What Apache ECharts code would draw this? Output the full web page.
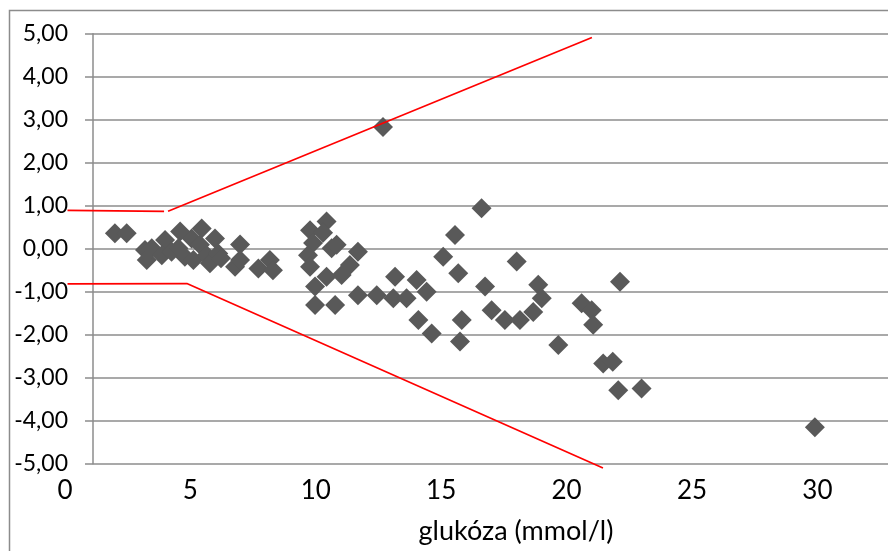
<!DOCTYPE html>
<html>
<head>
<meta charset="utf-8">
<script src="https://cdn.jsdelivr.net/npm/echarts@6/dist/echarts.min.js"></script>
<style>
  html, body { margin: 0; padding: 0; background: #fff; }
  #chart { width: 888px; height: 551px; }
</style>
</head>
<body>
<div id="chart"></div>
<script>
// glukóza (mmol/l) a rozdíl
const glukoza = [
  1.99, 2.46, 3.19, 3.26, 3.46, 3.99, 3.86, 4.25, 4.59, 4.52,
  4.78, 5.05, 5.12, 5.45, 5.38, 5.65, 5.78, 5.98, 6.11, 6.22,
  6.98, 6.78, 6.98, 7.71, 8.17, 8.29,
  9.77, 10.43, 10.29, 9.89, 9.69, 9.77, 10.63, 10.83, 11.68, 10.43,
  9.97, 11.36, 11.03, 9.97, 10.77, 11.68, 12.43, 13.16, 13.09, 13.62,
  14.02, 14.42, 14.09, 14.62, 15.08, 15.55, 15.68, 15.82, 15.75, 16.61,
  16.75, 17.01, 17.54, 18.14, 18.01, 18.87, 19.01, 18.67, 19.67, 20.60,
  21.00, 21.06, 22.13, 21.46, 21.84, 22.06, 22.99, 29.90, 12.68
];
const rozdil = [
  0.36, 0.36, -0.03, -0.26, 0.01, 0.20, -0.15, -0.07, 0.40, 0.01,
  -0.19, 0.24, -0.26, 0.47, 0.09, -0.15, -0.34, 0.24, -0.11, -0.22,
  0.10, -0.42, -0.26, -0.46, -0.26, -0.50,
  0.43, 0.63, 0.37, 0.13, -0.15, -0.42, 0.01, 0.09, -0.07, -0.65,
  -0.88, -0.38, -0.61, -1.31, -1.31, -1.08, -1.08, -0.65, -1.15, -1.15,
  -0.73, -1.00, -1.66, -1.97, -0.19, 0.32, -0.57, -1.66, -2.16, 0.94,
  -0.88, -1.43, -1.66, -1.66, -0.30, -0.84, -1.15, -1.47, -2.24, -1.27,
  -1.43, -1.77, -0.77, -2.67, -2.63, -3.29, -3.25, -4.15, 2.83
];

// hranice (červené čáry)
const horniX1 = [0.1, 3.95];
const horniY1 = [0.89, 0.87];
const horniX2 = [4.11, 21.01];
const horniY2 = [0.87, 4.91];
const dolniX = [0.1, 4.86, 21.45];
const dolniY = [-0.82, -0.81, -5.10];

const xTicks = [0, 5, 10, 15, 20, 25, 30];
const nazevOsyX = "glukóza (mmol/l)";

const pary = (xs, ys) => xs.map((x, i) => [x, ys[i]]);

const chart = echarts.init(document.getElementById("chart"));
const seda = "#8c8c8c";
const font = "Lato";

const option = {
  animation: false,
  textStyle: { fontFamily: font },
  grid: [
    { left: 93, right: 0, top: 33.7, bottom: 87.3 },
    { left: 65, right: 0, top: 33.7, bottom: 87.3 },
  ],
  xAxis: [
    { gridIndex: 0, type: "value", min: 0, max: 1, show: false },
    {
      gridIndex: 1,
      type: "value",
      min: 0,
      max: 32.815,
      interval: 5,
      axisLine: { show: false },
      axisTick: { show: false },
      splitLine: { show: false },
      axisLabel: {
        color: "#000",
        fontSize: 26,
        fontFamily: font,
        margin: 14,
        showMaxLabel: false,
        formatter: (v) => (xTicks.includes(v) ? String(v) : ""),
      },
    },
  ],
  yAxis: [
    {
      gridIndex: 0,
      type: "value",
      min: -5,
      max: 5,
      interval: 1,
      axisLine: { show: true, lineStyle: { color: seda, width: 1.5 } },
      axisTick: { show: true, length: 8, lineStyle: { color: seda, width: 1.5 } },
      splitLine: { show: true, lineStyle: { color: seda, width: 1.5 } },
      axisLabel: {
        color: "#000",
        fontSize: 23,
        fontFamily: font,
        margin: 25,
        formatter: (v) => v.toFixed(2).replace(".", ","),
      },
    },
    { gridIndex: 1, type: "value", min: -5, max: 5, show: false },
  ],
  graphic: [
    {
      type: "rect",
      shape: { x: 9.5, y: 10.5, width: 1000, height: 1000 },
      style: { fill: "none", stroke: seda, lineWidth: 1.5 },
      silent: true,
    },
    {
      type: "text",
      x: 516,
      y: 531,
      style: {
        text: nazevOsyX,
        align: "center",
        verticalAlign: "middle",
        fontSize: 27,
        fontFamily: font,
        fill: "#000",
      },
    },
  ],
  series: [
    {
      type: "line",
      xAxisIndex: 1,
      yAxisIndex: 1,
      data: pary(horniX1, horniY1),
      symbol: "none",
      clip: false,
      lineStyle: { color: "#ff0000", width: 1.7 },
    },
    {
      type: "line",
      xAxisIndex: 1,
      yAxisIndex: 1,
      data: pary(horniX2, horniY2),
      symbol: "none",
      clip: false,
      lineStyle: { color: "#ff0000", width: 1.7 },
    },
    {
      type: "line",
      xAxisIndex: 1,
      yAxisIndex: 1,
      data: pary(dolniX, dolniY),
      symbol: "none",
      clip: false,
      lineStyle: { color: "#ff0000", width: 1.7 },
    },
    {
      type: "scatter",
      xAxisIndex: 1,
      yAxisIndex: 1,
      data: pary(glukoza, rozdil),
      symbol: "diamond",
      symbolSize: 20,
      itemStyle: { color: "#595959", opacity: 1 },
    },
  ],
};

chart.setOption(option);
</script>
</body>
</html>
